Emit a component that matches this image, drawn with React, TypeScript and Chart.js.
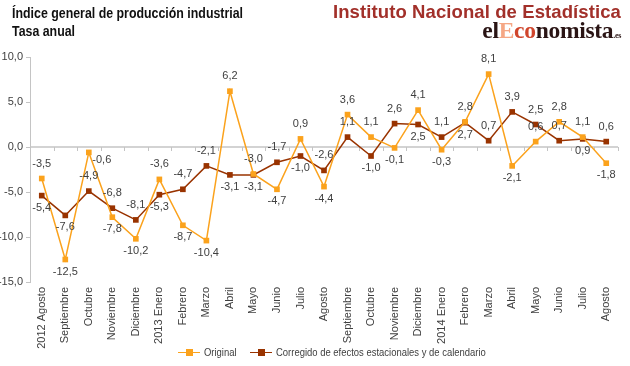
import React, { useEffect, useRef } from "react";
import { Chart, registerables } from "chart.js";

Chart.register(...registerables);

const categories = [
  "2012 Agosto", "Septiembre", "Octubre", "Noviembre", "Diciembre",
  "2013 Enero", "Febrero", "Marzo", "Abril", "Mayo", "Junio", "Julio",
  "Agosto", "Septiembre", "Octubre", "Noviembre", "Diciembre",
  "2014 Enero", "Febrero", "Marzo", "Abril", "Mayo", "Junio", "Julio", "Agosto",
];

const original = [
  -3.5, -12.5, -0.6, -7.8, -10.2, -3.6, -8.7, -10.4, 6.2, -3.0, -4.7, 0.9,
  -4.4, 3.6, 1.1, -0.1, 4.1, -0.3, 2.8, 8.1, -2.1, 0.6, 2.8, 1.1, -1.8,
];

const corregido = [
  -5.4, -7.6, -4.9, -6.8, -8.1, -5.3, -4.7, -2.1, -3.1, -3.1, -1.7, -1.0,
  -2.6, 1.1, -1.0, 2.6, 2.5, 1.1, 2.7, 0.7, 3.9, 2.5, 0.7, 0.9, 0.6,
];

const yMin = -15;
const yMax = 10;
const yStep = 5;

const seriesNames = ["Original", "Corregido de efectos estacionales y de calendario"];

// label placement (style): a = above, b = below, r = right
const originalLabelSide = [
  "a", "b", "r", "b", "b",
  "a", "b", "b", "a", "a",
  "b", "a", "b", "a", "a",
  "b", "a", "b", "a", "a",
  "b", "a", "a", "a", "b",
];
const corregidoLabelSide = [
  "b", "b", "a", "a", "a",
  "b", "a", "a", "b", "b",
  "a", "b", "a", "a", "b",
  "a", "b", "a", "b", "a",
  "a", "a", "a", "b", "a",
];

const ORANGE = "#FBA21C";
const BROWN = "#993300";
const TEXT = "#404040";
const AXIS = "#c4c4c4";

const fmt = (v: number) => v.toFixed(1).replace(".", ",");

const labelPlugin = {
  id: "pointLabels",
  afterDatasetsDraw(chart: any) {
    const ctx = chart.ctx;
    ctx.save();
    ctx.font = "11px 'Liberation Sans', Arial, sans-serif";
    ctx.fillStyle = TEXT;
    ctx.textAlign = "center";
    ctx.textBaseline = "middle";
    chart.data.datasets.forEach((ds: any, di: number) => {
      const meta = chart.getDatasetMeta(di);
      const sides = di === 0 ? originalLabelSide : corregidoLabelSide;
      meta.data.forEach((pt: any, i: number) => {
        const side = sides[i];
        let x = pt.x;
        let y = pt.y;
        if (side === "a") y -= 15;
        else if (side === "b") y += 12;
        else { x += 13; y += 8; }
        ctx.fillText(fmt(ds.data[i]), x, y);
      });
    });
    ctx.restore();
  },
};

const zeroAxisPlugin = {
  id: "zeroAxis",
  beforeDatasetsDraw(chart: any) {
    const ctx = chart.ctx;
    const xs = chart.scales.x;
    const ys = chart.scales.y;
    const y0 = ys.getPixelForValue(0);
    const n = chart.data.labels.length;
    const w = (xs.right - xs.left) / n;
    ctx.save();
    ctx.strokeStyle = AXIS;
    ctx.lineWidth = 1.5;
    ctx.beginPath();
    ctx.moveTo(xs.left, y0);
    ctx.lineTo(xs.right, y0);
    ctx.stroke();
    ctx.lineWidth = 1;
    ctx.beginPath();
    for (let i = 0; i <= n; i++) {
      const x = Math.round(xs.left + i * w) + 0.5;
      ctx.moveTo(x, y0);
      ctx.lineTo(x, y0 + 4);
    }
    ctx.stroke();
    ctx.restore();
  },
};

function ChartCanvas() {
  const ref = useRef<HTMLCanvasElement | null>(null);
  useEffect(() => {
    if (!ref.current) return;
    const chart = new Chart(ref.current, {
      type: "line",
      data: {
        labels: categories,
        datasets: [
          {
            label: seriesNames[0],
            data: original,
            borderColor: ORANGE,
            backgroundColor: ORANGE,
            borderWidth: 1.5,
            pointStyle: "rect",
            pointRadius: 4,
            pointBorderWidth: 0,
            pointBackgroundColor: ORANGE,
            tension: 0,
          },
          {
            label: seriesNames[1],
            data: corregido,
            borderColor: BROWN,
            backgroundColor: BROWN,
            borderWidth: 1.5,
            pointStyle: "rect",
            pointRadius: 4,
            pointBorderWidth: 0,
            pointBackgroundColor: BROWN,
            tension: 0,
          },
        ],
      },
      options: {
        animation: false,
        responsive: false,
        maintainAspectRatio: false,
        layout: { padding: { top: 57, right: 12, left: 0, bottom: 0 } },
        plugins: {
          legend: { display: false },
          tooltip: { enabled: false },
          title: { display: false },
        },
        scales: {
          x: {
            type: "category",
            offset: true,
            border: { display: false },
            grid: { display: false, drawTicks: false },
            ticks: {
              autoSkip: false,
              maxRotation: 90,
              minRotation: 90,
              padding: 5,
              color: TEXT,
              font: { family: "'Liberation Sans', Arial, sans-serif", size: 11 },
            },
            afterFit: (s: any) => { s.height = 84; },
          },
          y: {
            min: yMin,
            max: yMax,
            border: { display: true, color: AXIS, width: 1 },
            grid: { drawOnChartArea: false, drawTicks: true, tickLength: 4, tickColor: AXIS },
            ticks: {
              stepSize: yStep,
              padding: 3,
              color: TEXT,
              font: { family: "'Liberation Sans', Arial, sans-serif", size: 11 },
              callback: (v: any) => fmt(Number(v)),
            },
            afterFit: (s: any) => { s.width = 30; },
          },
        },
      },
      plugins: [zeroAxisPlugin, labelPlugin],
    });
    return () => chart.destroy();
  }, []);
  return <canvas ref={ref} width={630} height={366} style={{ position: "absolute", left: 0, top: 0 }} />;
}

const sans = "'Liberation Sans', Arial, sans-serif";

export default function App() {
  return (
    <div style={{ position: "absolute", left: 0, top: 0, width: 630, height: 366, background: "#fff", overflow: "hidden" }}>
      <ChartCanvas />
      <div style={{ position: "absolute", left: 12, top: 4, fontFamily: sans, fontSize: 15, lineHeight: "18px", color: "#111", fontWeight: "bold", transform: "scaleX(0.825)", transformOrigin: "left top", whiteSpace: "nowrap" }}>
        <div>Índice general de producción industrial</div>
        <div>Tasa anual</div>
      </div>
      <div style={{ position: "absolute", right: 9, top: 1, fontFamily: sans, fontSize: 18.5, fontWeight: "bold", color: "#A2302A", whiteSpace: "nowrap", letterSpacing: "0.1px" }}>
        Instituto Nacional de Estadística
      </div>
      <div style={{ position: "absolute", right: 9, top: 17, fontFamily: "'Liberation Serif', 'DejaVu Serif', serif", fontSize: 23.5, fontWeight: "bold", color: "#2a1414", whiteSpace: "nowrap", letterSpacing: "-0.3px" }}>
        el<span style={{ color: "#F5A785" }}>E</span><span style={{ color: "#D0452C" }}>co</span>nomista<span style={{ fontSize: 8 }}>.es</span>
      </div>
      {seriesNames.map((name, i) => (
        <div key={name} style={{ position: "absolute", left: i ? 250 : 178, top: 346, height: 12, display: "flex", alignItems: "center", fontFamily: sans, fontSize: 11, color: TEXT, whiteSpace: "nowrap" }}>
          <div style={{ position: "relative", width: 22, height: 12, marginRight: 4, flex: "none" }}>
            <div style={{ position: "absolute", left: 0, right: 0, top: 5.5, height: 1.5, background: i ? BROWN : ORANGE }} />
            <div style={{ position: "absolute", left: 7.5, top: 2.5, width: 7, height: 7, background: i ? BROWN : ORANGE }} />
          </div>
          <span style={{ display: "inline-block", transform: "scaleX(0.86)", transformOrigin: "left center" }}>{name}</span>
        </div>
      ))}
    </div>
  );
}
